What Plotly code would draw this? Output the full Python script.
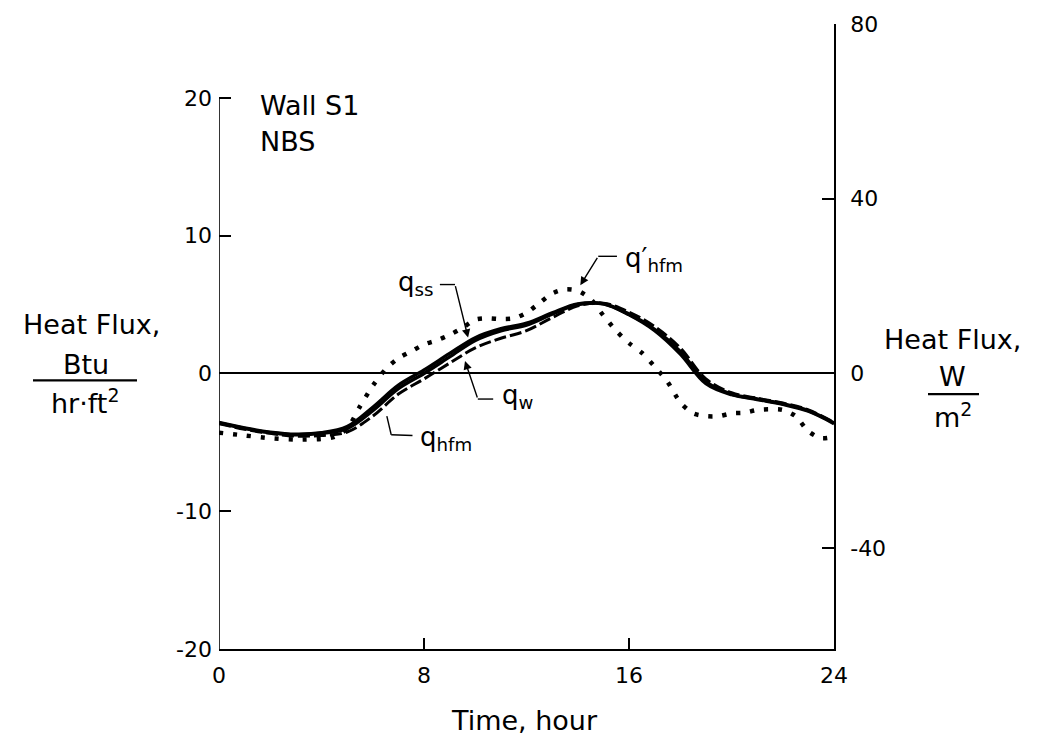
import plotly.graph_objects as go

# ---------------- data ----------------
K = 3.1546  # W/m^2 per Btu/(hr ft^2)

hours = [0, 1, 2, 3, 4, 5, 6, 7, 8, 9, 10, 11, 12,
         13, 14, 15, 16, 17, 18, 19, 20, 21, 22, 23, 24]

q_ss = [-3.55, -3.95, -4.25, -4.4, -4.3, -3.85, -2.45, -0.85, 0.25, 1.45, 2.6, 3.25, 3.65,
        4.4, 5.05, 5.05, 4.25, 3.1, 1.4, -0.75, -1.55, -1.9, -2.25, -2.75, -3.65]
q_w = [-3.6, -4.0, -4.3, -4.45, -4.35, -4.0, -2.7, -1.1, 0.0, 1.2, 2.4, 3.1, 3.5,
       4.3, 5.0, 5.05, 4.3, 3.2, 1.6, -0.6, -1.5, -1.85, -2.2, -2.7, -3.6]
q_hfm = [-3.65, -4.05, -4.35, -4.55, -4.5, -4.25, -3.1, -1.5, -0.4, 0.75, 1.85, 2.55, 3.1,
         4.05, 4.9, 5.1, 4.45, 3.4, 1.85, -0.4, -1.4, -1.8, -2.15, -2.65, -3.55]

hours_p = [0, 1, 2, 3, 4, 4.5, 5, 5.5, 6, 6.5, 7, 7.5, 8, 8.5, 9, 9.5, 10, 10.5, 11,
           11.5, 12, 12.5, 13, 13.5, 14, 14.5, 15, 15.5, 16, 16.5, 17, 17.5, 18,
           18.5, 19, 19.5, 20, 20.5, 21, 21.5, 22, 22.5, 23, 23.5, 24]
q_hfm_prime = [-4.3, -4.5, -4.7, -4.8, -4.75, -4.6, -4.0, -2.4, -0.9, 0.3, 1.1, 1.6,
               2.1, 2.4, 2.8, 3.3, 3.9, 4.0, 3.95, 4.0, 4.4, 5.1, 5.8, 6.1, 6.0, 5.4,
               4.2, 3.1, 2.2, 1.5, 0.5, -0.6, -2.1, -2.9, -3.1, -3.1, -2.9, -2.85,
               -2.65, -2.6, -2.65, -3.1, -4.2, -4.7, -4.6]

x_ticks = [0, 8, 16, 24]
y_ticks = [-20, -10, 0, 10, 20]
y_ticklabels = ["-20", "-10", "0", "10", "20"]
y2_ticks = [-40, 0, 40, 80]
y2_ticklabels = ["-40", "0", "40", "80"]

# ---------------- layout geometry ----------------
W, H = 1051, 743
L, R, T, B = 219, 834, 14, 649


def pxx(p):
    return (p - L) / (R - L)


def pxy(p):
    return (B - p) / (B - T)


FONT = "DejaVu Sans"
TICK = 22
LAB = 27

fig = go.Figure()

fig.add_trace(go.Scatter(x=hours, y=q_hfm, mode="lines", name="q_hfm",
                         line=dict(color="black", width=3, dash="12px,4px",
                                   shape="spline", smoothing=1.0)))
fig.add_trace(go.Scatter(x=hours, y=q_w, mode="lines", name="q_w",
                         line=dict(color="black", width=3.5, shape="spline", smoothing=1.0)))
fig.add_trace(go.Scatter(x=hours, y=q_ss, mode="lines", name="q_ss",
                         line=dict(color="black", width=3.2, shape="spline", smoothing=1.0)))
fig.add_trace(go.Scatter(x=hours_p, y=q_hfm_prime, mode="lines", name="q'_hfm",
                         line=dict(color="black", width=4.5, dash="4px,10px",
                                   shape="spline", smoothing=0.8)))
# dummy trace to activate the right axis
fig.add_trace(go.Scatter(x=[None], y=[None], yaxis="y2", showlegend=False))

shapes = []
# left spine (only from -20 to 20)
shapes.append(dict(type="line", xref="x", yref="y", x0=0, x1=0, y0=-20, y1=20,
                   line=dict(color="black", width=1.6)))
# fraction bars for the axis titles
shapes.append(dict(type="line", xref="paper", yref="paper",
                   x0=pxx(33), x1=pxx(137), y0=pxy(376), y1=pxy(376),
                   line=dict(color="black", width=2.2)))
shapes.append(dict(type="line", xref="paper", yref="paper",
                   x0=pxx(928), x1=pxx(979), y0=pxy(390), y1=pxy(390),
                   line=dict(color="black", width=2.2)))

# leader lines (data coordinates)
leaders = [
    [(8.62, 6.45), (9.21, 6.45)],           # q_ss
    [(10.7, -1.86), (10.1, -1.86)],         # q_w
    [(6.55, -3.1), (6.72, -4.45), (7.55, -4.5)],  # q_hfm
    [(15.53, 8.5), (14.8, 8.5)],            # q'_hfm
]
for pts in leaders:
    for (xa, ya), (xb, yb) in zip(pts[:-1], pts[1:]):
        shapes.append(dict(type="line", xref="x", yref="y", x0=xa, y0=ya, x1=xb, y1=yb,
                           line=dict(color="black", width=1.4)))

annotations = []
# arrows
arrows = [((9.21, 6.45), (9.72, 2.6)),
          ((10.1, -1.86), (9.6, 0.9)),
          ((14.8, 8.5), (14.1, 6.4))]
for (ax, ay), (tx, ty) in arrows:
    annotations.append(dict(x=tx, y=ty, ax=ax, ay=ay, xref="x", yref="y",
                            axref="x", ayref="y", text="", showarrow=True,
                            arrowhead=2, arrowsize=1.2, arrowwidth=1.4,
                            arrowcolor="black"))

lab_font = dict(family=FONT, size=LAB, color="black")
curve_font = dict(family=FONT, size=26, color="black")
annotations += [
    dict(x=6.9, y=6.5, xref="x", yref="y", text="q<sub>ss</sub>", showarrow=False,
         xanchor="left", yanchor="middle", font=curve_font),
    dict(x=10.95, y=-1.7, xref="x", yref="y", text="q<sub>w</sub>", showarrow=False,
         xanchor="left", yanchor="middle", font=curve_font),
    dict(x=7.75, y=-4.75, xref="x", yref="y", text="q<sub>hfm</sub>", showarrow=False,
         xanchor="left", yanchor="middle", font=curve_font),
    dict(x=15.75, y=8.3, xref="x", yref="y", text="q\u2032<sub>hfm</sub>", showarrow=False,
         xanchor="left", yanchor="middle", font=curve_font),
    dict(x=pxx(258), y=pxy(97), xref="paper", yref="paper", text="Wall S1",
         showarrow=False, xanchor="left", yanchor="middle", font=lab_font),
    dict(x=pxx(258), y=pxy(133), xref="paper", yref="paper", text="NBS",
         showarrow=False, xanchor="left", yanchor="middle", font=lab_font),
    dict(x=pxx(91), y=pxy(319), xref="paper", yref="paper", text="Heat Flux,",
         showarrow=False, xanchor="center", yanchor="middle", font=lab_font),
    dict(x=pxx(86), y=pxy(360), xref="paper", yref="paper", text="Btu",
         showarrow=False, xanchor="center", yanchor="middle", font=lab_font),
    dict(x=pxx(85), y=pxy(398), xref="paper", yref="paper", text="hr\u00b7ft<sup>2</sup>",
         showarrow=False, xanchor="center", yanchor="middle", font=lab_font),
    dict(x=pxx(952), y=pxy(335), xref="paper", yref="paper", text="Heat Flux,",
         showarrow=False, xanchor="center", yanchor="middle", font=lab_font),
    dict(x=pxx(952), y=pxy(372), xref="paper", yref="paper", text="W",
         showarrow=False, xanchor="center", yanchor="middle", font=lab_font),
    dict(x=pxx(953), y=pxy(412), xref="paper", yref="paper", text="m<sup>2</sup>",
         showarrow=False, xanchor="center", yanchor="middle", font=lab_font),
    dict(x=pxx(524), y=pxy(722), xref="paper", yref="paper", text="Time, hour",
         showarrow=False, xanchor="center", yanchor="middle", font=lab_font),
]

tick_font = dict(family=FONT, size=TICK, color="black")

fig.update_layout(
    width=W, height=H,
    margin=dict(l=L, r=W - R, t=T, b=H - B, pad=0),
    paper_bgcolor="white", plot_bgcolor="white",
    showlegend=False,
    font=dict(family=FONT, color="black"),
    xaxis=dict(range=[0, 24], tickvals=x_ticks, ticks="inside", ticklen=11,
               tickwidth=1.5, tickcolor="black", showline=True, linecolor="black",
               linewidth=1.6, showgrid=False, zeroline=False, tickfont=tick_font,
               ticklabelstandoff=6),
    yaxis=dict(range=[-20, 80 / K], tickvals=y_ticks, ticktext=y_ticklabels,
               ticks="inside", ticklen=12, tickwidth=1.5, tickcolor="black",
               showline=False, showgrid=False, zeroline=True, zerolinecolor="black",
               zerolinewidth=1.5, tickfont=tick_font, ticklabelstandoff=6),
    yaxis2=dict(range=[-20 * K, 80.001], overlaying="y", side="right",
                tickvals=y2_ticks, ticktext=y2_ticklabels, ticks="inside",
                ticklen=12, tickwidth=1.5, tickcolor="black", showline=True,
                linecolor="black", linewidth=1.6, showgrid=False, zeroline=False,
                tickfont=tick_font, ticklabelstandoff=10),
    shapes=shapes,
    annotations=annotations,
)

fig.write_html("out.html")
